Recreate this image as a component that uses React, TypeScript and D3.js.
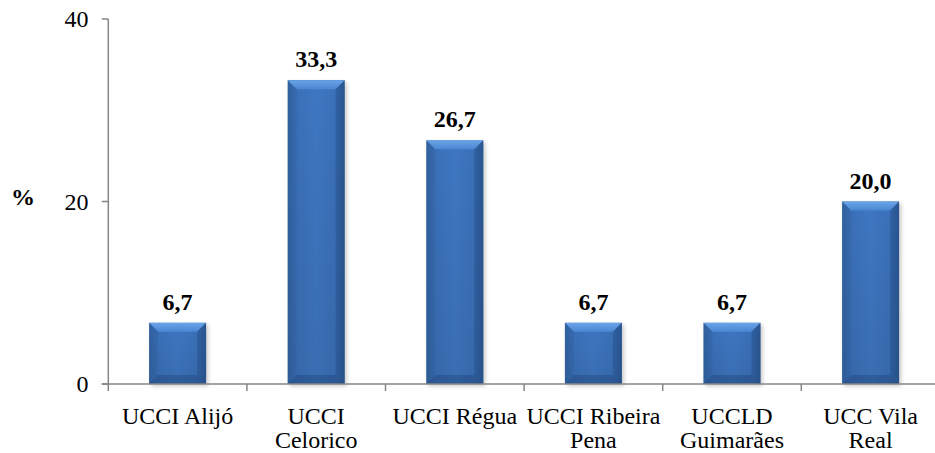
import React from "react";
import * as d3 from "d3";

const categories = ["UCCI Alijó", "UCCI Celorico", "UCCI Régua", "UCCI Ribeira Pena", "UCCLD Guimarães", "UCC Vila Real"];
const labelLines = [["UCCI Alijó"], ["UCCI", "Celorico"], ["UCCI Régua"], ["UCCI Ribeira", "Pena"], ["UCCLD", "Guimarães"], ["UCC Vila", "Real"]];
const values = [6.7, 33.3, 26.7, 6.7, 6.7, 20.0];
const yTicks = [0, 20, 40];

const W = 935, H = 453;
const x0 = 108.3, step = 138.6;
const yTop = 19, yBottom = 384;
const FONT = "Liberation Serif, Times New Roman, Times, serif";

export default function App() {
  const x = d3.scaleBand<string>()
    .domain(categories)
    .range([x0, x0 + step * categories.length])
    .paddingInner(0.589)
    .paddingOuter(0.2945);
  const y = d3.scaleLinear().domain([0, 40]).range([yBottom, yTop]);
  const bw = x.bandwidth();
  const fmt = (v: number) => v.toFixed(1).replace(".", ",");
  const bev = 9;

  return (
    <svg width={W} height={H} style={{ position: "absolute", left: 0, top: 0, background: "#fff", fontFamily: FONT }}>
      <defs>
        <linearGradient id="body" x1="0" x2="1" y1="0" y2="0">
          <stop offset="0" stopColor="#31629f" />
          <stop offset="0.15" stopColor="#3a70b8" />
          <stop offset="0.5" stopColor="#3e77c1" />
          <stop offset="0.85" stopColor="#3a70b8" />
          <stop offset="1" stopColor="#2e5c98" />
        </linearGradient>
        <linearGradient id="topb" x1="0" x2="0" y1="0" y2="1">
          <stop offset="0" stopColor="#6aa4e8" />
          <stop offset="1" stopColor="#4a86d2" />
        </linearGradient>
        <linearGradient id="bodyv" x1="0" x2="0" y1="0" y2="1">
          <stop offset="0" stopColor="#000" stopOpacity="0" />
          <stop offset="1" stopColor="#000" stopOpacity="0.08" />
        </linearGradient>
        <filter id="sh" x="-20%" y="-20%" width="140%" height="140%">
          <feGaussianBlur stdDeviation="2" />
        </filter>
      </defs>

      {categories.map((c, i) => {
        const bx = x(c)!;
        const by = y(values[i]);
        const bh = yBottom - by;
        const right = bx + bw;
        return (
          <g key={c}>
            <rect x={bx + 2} y={by + 2} width={bw} height={bh} fill="#000" opacity={0.22} filter="url(#sh)" />
            <rect x={bx} y={by} width={bw} height={bh} fill="url(#body)" />
            <rect x={bx} y={by} width={bw} height={bh} fill="url(#bodyv)" />
            <polygon points={`${bx},${by} ${right},${by} ${right - bev},${by + bev} ${bx + bev},${by + bev}`} fill="url(#topb)" />
            <polygon points={`${bx},${by} ${bx + bev},${by + bev} ${bx + bev},${yBottom - bev} ${bx},${yBottom}`} fill="#2d5c9a" opacity={0.3} />
            <polygon points={`${right},${by} ${right - bev},${by + bev} ${right - bev},${yBottom - bev} ${right},${yBottom}`} fill="#244c82" opacity={0.4} />
            <polygon points={`${bx},${yBottom} ${bx + bev},${yBottom - bev} ${right - bev},${yBottom - bev} ${right},${yBottom}`} fill="#22487c" opacity={0.45} />
            <text x={bx + bw / 2} y={by - 13} textAnchor="middle" fontFamily={FONT} fontWeight="bold" fontSize={24} fill="#000">
              {fmt(values[i])}
            </text>
          </g>
        );
      })}

      {/* y axis */}
      <line x1={x0} x2={x0} y1={yTop} y2={yBottom} stroke="#868686" strokeWidth={1.5} />
      {yTicks.map((t) => (
        <g key={t}>
          <line x1={x0 - 6.5} x2={x0} y1={y(t)} y2={y(t)} stroke="#868686" strokeWidth={1.5} />
          <text x={88.5} y={y(t) + 8} textAnchor="end" fontFamily={FONT} fontSize={24} fill="#000">{t}</text>
        </g>
      ))}
      <text x={23} y={205} textAnchor="middle" fontFamily={FONT} fontWeight="bold" fontSize={24} fill="#000">%</text>

      {/* x axis */}
      <line x1={x0 - 6.5} x2={W} y1={yBottom} y2={yBottom} stroke="#868686" strokeWidth={1.5} />
      {d3.range(categories.length + 1).map((k) => (
        <line key={k} x1={x0 + k * step} x2={x0 + k * step} y1={yBottom} y2={yBottom + 7} stroke="#868686" strokeWidth={1.5} />
      ))}
      {categories.map((c, i) => (
        <text key={c} x={x(c)! + bw / 2} y={424} textAnchor="middle" fontFamily={FONT} fontSize={24} fill="#000">
          {labelLines[i].map((ln, j) => (
            <tspan key={j} x={x(c)! + bw / 2} dy={j === 0 ? 0 : 23.5}>{ln}</tspan>
          ))}
        </text>
      ))}
    </svg>
  );
}
